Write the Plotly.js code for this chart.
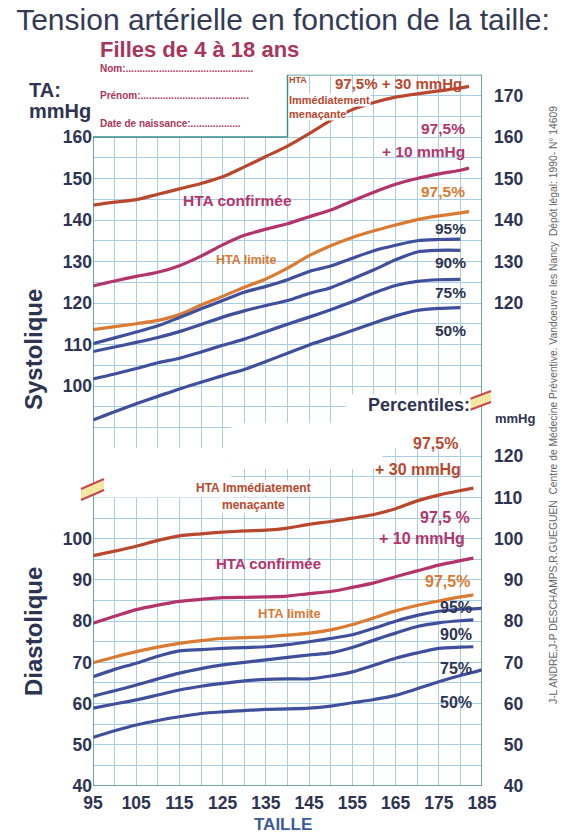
<!DOCTYPE html>
<html><head><meta charset="utf-8">
<script src="https://cdn.plot.ly/plotly-3.0.1.min.js"></script>
<style>html,body{margin:0;padding:0;background:#fff}#chart{width:566px;height:835px}</style>
</head><body><div id="chart"></div>
<script>
// ---------- DATA ----------
const tailleSys = [95,100,105,110,115,120,125,130,135,140,145,150,155,160,165,170,175,180,182];
const sysHTAimm  = [143.6,144.3,144.9,146.2,147.5,148.8,150.4,152.8,155.3,157.8,160.8,164.0,166.6,168.3,169.6,170.4,171.1,171.8,172.2];
const sysHTAconf = [124.1,125.3,126.4,127.4,129.0,131.3,134.0,136.3,137.8,139.1,140.8,142.4,144.6,146.7,148.6,150.0,151.1,152.0,152.5];
const sysP975    = [113.6,114.3,115.0,115.8,117.2,119.5,121.6,123.8,125.8,128.4,131.4,133.8,135.8,137.4,138.8,140.1,141.0,141.7,142.0];
const sysP95     = [110.2,111.6,113.0,114.5,116.5,118.6,120.6,122.6,124.0,125.6,127.6,128.9,130.8,132.6,133.9,135.0,135.3,135.4,null];
const sysP90     = [108.3,109.4,110.5,111.7,113.1,114.8,116.6,118.1,119.4,120.6,122.3,123.7,125.8,128.0,130.4,132.3,132.7,132.7,null];
const sysP75     = [101.7,102.9,104.2,105.6,106.7,108.2,109.8,111.3,113.1,114.9,116.6,118.4,120.3,122.4,124.2,125.2,125.6,125.7,null];
const sysP50     = [91.8,93.8,95.7,97.5,99.3,100.9,102.5,104.0,105.9,107.9,109.9,111.6,113.4,115.2,116.9,118.2,118.7,118.9,null];

const tailleDia = [95,100,105,110,115,120,125,130,135,140,145,150,155,160,165,170,175,180,183,185];
const diaHTAimm  = [95.9,97.0,98.2,99.6,100.7,101.2,101.6,101.9,102.1,102.6,103.5,104.2,105.0,105.9,107.3,109.2,110.6,111.7,112.3,null];
const diaHTAconf = [79.5,81.2,82.8,83.9,84.8,85.3,85.7,85.8,85.9,86.1,86.7,87.2,88.2,89.3,90.8,92.2,93.6,94.7,95.3,null];
const diaP975    = [69.9,71.3,72.6,73.7,74.6,75.3,75.8,76.0,76.2,76.6,77.1,77.9,79.2,80.8,82.5,83.8,84.9,85.9,86.4,null];
const diaP95     = [66.5,68.3,69.8,71.5,72.8,73.1,73.4,73.6,73.8,74.3,75.0,75.8,76.7,78.3,80.0,81.4,82.4,82.9,83.0,83.1];
const diaP90     = [61.8,63.1,64.5,66.0,67.4,68.5,69.4,70.0,70.6,71.2,71.8,72.3,73.6,75.4,77.1,78.7,79.6,80.1,80.3,null];
const diaP75     = [58.9,59.9,60.9,62.1,63.3,64.2,64.9,65.5,65.9,66.0,66.0,66.7,67.7,69.3,71.0,72.3,73.4,73.7,73.8,null];
const diaP50     = [51.8,53.4,54.8,55.9,56.8,57.6,58.0,58.3,58.6,58.7,58.9,59.4,60.2,61.0,62.0,63.6,65.3,66.8,67.6,68.2];

const xTickLabels      = [95,105,115,125,135,145,155,165,175,185];
const sysTicksLeft     = [100,110,120,130,140,150,160];
const sysTicksRight    = [120,130,140,150,160,170];
const diaTicksLeft     = [40,50,60,70,80,90,100];
const diaTicksRight    = [40,50,60,70,80,90,100,110,120];

// ---------- STYLE / GEOMETRY ----------
const FONT = 'Liberation Sans, Arial, sans-serif';
const NAVY = '#2d3452', RED = '#b8472d', MAG = '#b3346b', ORA = '#da7a33', BLUE = '#3f4f9c';
const GRID = '#a9cde2', FRAME = '#3f8b8d';
const L = 93, R = 482, B = 786;               // plot area in px (t=0)
const px = x => (x - L) / (R - L);
const py = y => (B - y) / B;
const SYS_RANGE = [85, 175], DIA_RANGE = [40, 123];
const sysDom = [py(448.25), py(74.75)];
const diaDom = [0, py(444)];
const sysPaper = v => sysDom[0] + (v - SYS_RANGE[0]) / (SYS_RANGE[1] - SYS_RANGE[0]) * (sysDom[1] - sysDom[0]);

function steps(a, b, s) { const o = []; for (let v = a; v <= b + 1e-9; v += s) o.push(v); return o; }
const xGrid = steps(95, 185, 5), sysGrid = steps(85, 175, 5), diaGrid = steps(40, 120, 5);
const FS = '\u2007'; // figure space: right-aligns two-digit labels on the right axes
const rightText = v => (v < 100 ? FS : '') + String(v);

function line(x, y, color, yaxis) {
  return { type: 'scatter', mode: 'lines', x, y, yaxis, xaxis: 'x', hoverinfo: 'skip', showlegend: false,
    line: { color, width: 3.2, shape: 'spline', smoothing: 0.8 }, connectgaps: false };
}
const traces = [
  line(tailleSys, sysHTAimm, RED, 'y2'),
  line(tailleSys, sysHTAconf, MAG, 'y2'),
  line(tailleSys, sysP975, ORA, 'y2'),
  line(tailleSys, sysP95, BLUE, 'y2'),
  line(tailleSys, sysP90, BLUE, 'y2'),
  line(tailleSys, sysP75, BLUE, 'y2'),
  line(tailleSys, sysP50, BLUE, 'y2'),
  line(tailleDia, diaHTAimm, RED, 'y'),
  line(tailleDia, diaHTAconf, MAG, 'y'),
  line(tailleDia, diaP975, ORA, 'y'),
  line(tailleDia, diaP95, BLUE, 'y'),
  line(tailleDia, diaP90, BLUE, 'y'),
  line(tailleDia, diaP75, BLUE, 'y'),
  line(tailleDia, diaP50, BLUE, 'y'),
  { type: 'scatter', x: [], y: [], yaxis: 'y3', showlegend: false, hoverinfo: 'skip' },
  { type: 'scatter', x: [], y: [], yaxis: 'y4', showlegend: false, hoverinfo: 'skip' }
];

const tickFont = { family: FONT, size: 17.5, color: NAVY, weight: 'bold' };
const baseAxis = { zeroline: false, showline: false, ticks: '', fixedrange: true, tickfont: tickFont,
  gridcolor: GRID, gridwidth: 1 };

function ann(text, x, y, o = {}) {
  return Object.assign({ xref: 'paper', yref: 'paper', x: px(x), y: py(y), text, showarrow: false,
    xanchor: 'left', yanchor: 'middle', borderpad: 0,
    font: { family: FONT, size: o.size || 15, color: o.color || NAVY } }, o.extra || {});
}
const b = t => '<b>' + t + '</b>';
const annotations = [
  ann(b('Filles de 4 à 18 ans'), 99, 50, { size: 22, color: '#a8365c' }),
  ann(b('Nom:..............................................'), 99, 68, { size: 10, color: '#a8365c' }),
  ann(b('Prénom:.......................................'), 99, 95, { size: 10, color: '#a8365c' }),
  ann(b('Date de naissance:..................'), 99, 124, { size: 10, color: '#a8365c' }),
  ann(b('TA:'), 28, 90, { size: 20 }),
  ann(b('mmHg'), 28, 111, { size: 20 }),
  ann(b('Systolique'), 33, 350, { size: 24, extra: { xanchor: 'center', textangle: -90 } }),
  ann(b('Diastolique'), 33, 632, { size: 24, extra: { xanchor: 'center', textangle: -90 } }),
  ann(b('TAILLE'), 283, 824, { size: 17, color: '#3c5a9a', extra: { xanchor: 'center' } }),
  ann('J-L ANDRE,J-P DESCHAMPS,R.GUEGUEN&nbsp;&nbsp;Centre de Médecine Préventive. Vandoeuvre les Nancy&nbsp;&nbsp;Dépôt légal: 1990- N° 14609',
      553, 405, { size: 10.3, color: '#666', extra: { xanchor: 'center', textangle: -90 } }),
  ann(b('mmHg'), 515, 418, { size: 13, extra: { xanchor: 'center' } }),
  ann(b('Percentiles:'), 471, 405, { size: 18, extra: { xanchor: 'right', bgcolor: '#fff' } }),
  // systolic labels
  ann(b('HTA'), 288, 80, { size: 9, color: RED }),
  ann(b('97,5% + 30 mmHg'), 334, 84, { size: 15, color: RED }),
  ann(b('Immédiatement'), 288, 100, { size: 11, color: RED, extra: { bgcolor: '#fff' } }),
  ann(b('menaçante'), 288, 114, { size: 11, color: RED, extra: { bgcolor: '#fff' } }),
  ann(b('97,5%'), 466, 128, { size: 15.5, color: MAG, extra: { xanchor: 'right' } }),
  ann(b('+ 10 mmHg'), 466, 152, { size: 15.5, color: MAG, extra: { xanchor: 'right' } }),
  ann(b('HTA confirmée'), 237, 200, { size: 15.5, color: MAG, extra: { xanchor: 'center' } }),
  ann(b('97,5%'), 466, 192, { size: 15.5, color: ORA, extra: { xanchor: 'right' } }),
  ann(b('HTA limite'), 246, 260, { size: 12.5, color: ORA, extra: { xanchor: 'center' } }),
  ann(b('95%'), 467, 228, { size: 15.5, extra: { xanchor: 'right' } }),
  ann(b('90%'), 467, 262, { size: 15.5, extra: { xanchor: 'right' } }),
  ann(b('75%'), 467, 292, { size: 15.5, extra: { xanchor: 'right' } }),
  ann(b('50%'), 467, 330, { size: 15.5, extra: { xanchor: 'right' } }),
  // diastolic labels
  ann(b('97,5%'), 459, 443, { size: 16, color: RED, extra: { xanchor: 'right' } }),
  ann(b('+ 30 mmHg'), 462, 469, { size: 16, color: RED, extra: { xanchor: 'right' } }),
  ann(b('HTA Immédiatement'), 253, 488, { size: 12, color: RED, extra: { xanchor: 'center', bgcolor: '#fff' } }),
  ann(b('menaçante'), 253, 505, { size: 12, color: RED, extra: { xanchor: 'center', bgcolor: '#fff' } }),
  ann(b('97,5 %'), 471, 517, { size: 16, color: MAG, extra: { xanchor: 'right' } }),
  ann(b('+ 10 mmHg'), 466, 538, { size: 16, color: MAG, extra: { xanchor: 'right' } }),
  ann(b('HTA confirmée'), 268, 563, { size: 15, color: MAG, extra: { xanchor: 'center' } }),
  ann(b('97,5%'), 471, 581, { size: 16, color: ORA, extra: { xanchor: 'right' } }),
  ann(b('HTA limite'), 289, 613, { size: 13, color: ORA, extra: { xanchor: 'center' } }),
  ann(b('95%'), 473, 607, { size: 16, extra: { xanchor: 'right' } }),
  ann(b('90%'), 473, 634, { size: 16, extra: { xanchor: 'right' } }),
  ann(b('75%'), 473, 668, { size: 16, extra: { xanchor: 'right' } }),
  ann(b('50%'), 473, 702, { size: 16, extra: { xanchor: 'right' } })
];

const mask = (yref, x0, x1, y0, y1) => ({ type: 'rect', xref: 'x', yref, x0, x1, y0, y1,
  fillcolor: '#fff', line: { width: 0 }, layer: 'between' });
const seg = (xref, yref, x0, y0, x1, y1, color, width) => ({ type: 'line', xref, yref, x0, y0, x1, y1,
  line: { color, width }, layer: 'above' });
const P = (x, y) => px(x).toFixed(4) + ',' + py(y).toFixed(4);
function brk(x0, y0, x1, y1, gap) {
  return [
    { type: 'path', xref: 'paper', yref: 'paper', path: `M${P(x0,y0)} L${P(x1,y1)} L${P(x1,y1+gap)} L${P(x0,y0+gap)} Z`,
      fillcolor: '#f4e7a4', line: { width: 0 }, layer: 'above' },
    seg('paper', 'paper', px(x0), py(y0), px(x1), py(y1), '#c9474a', 2),
    seg('paper', 'paper', px(x0), py(y0 + gap), px(x1), py(y1 + gap), '#c9474a', 2)
  ];
}
const shapes = [
  mask('y2', 95, 140, 160, 175),
  mask('y2', 127, 153.5, 85, 91),
  mask('y2', 153.5, 185, 85, 98),
  mask('y', 95, 127, 110, 123),
  mask('y', 127, 162, 117, 123),
  // frame
  seg('x', 'paper', 95, 0, 95, sysPaper(160), FRAME, 1.5),
  seg('x', 'y2', 95, 160, 140, 160, FRAME, 1.5),
  seg('x', 'y2', 140, 160, 140, 175, FRAME, 1.5),
  seg('x', 'y2', 140, 175, 185, 175, FRAME, 1.5),
  seg('x', 'paper', 185, 0, 185, sysPaper(175), FRAME, 1.5),
  seg('x', 'y', 95, 40, 185, 40, FRAME, 1.5),
  ...brk(81, 489, 104, 479, 11),
  ...brk(467, 400, 491, 391, 11)
];

const layout = {
  width: 566, height: 835, margin: { l: L, r: 566 - R, t: 0, b: 835 - B },
  paper_bgcolor: '#fff', plot_bgcolor: '#fff', showlegend: false,
  title: { text: 'Tension artérielle en fonction de la taille:', font: { family: FONT, size: 30, color: '#333b55' },
    x: 0.5, xref: 'container', xanchor: 'center', y: 1 - 19 / 835, yref: 'container', yanchor: 'middle' },
  xaxis: Object.assign({}, baseAxis, { range: [95, 185], anchor: 'y', tickmode: 'array', tickvals: xGrid,
    ticktext: xGrid.map(v => xTickLabels.includes(v) ? String(v) : ''), showgrid: true, ticklabelstandoff: 4 }),
  yaxis: Object.assign({}, baseAxis, { domain: diaDom, range: DIA_RANGE, anchor: 'x', tickmode: 'array', tickvals: diaGrid,
    ticktext: diaGrid.map(v => diaTicksLeft.includes(v) ? String(v) : ''), showgrid: true }),
  yaxis2: Object.assign({}, baseAxis, { domain: sysDom, range: SYS_RANGE, anchor: 'x', tickmode: 'array', tickvals: sysGrid,
    ticktext: sysGrid.map(v => sysTicksLeft.includes(v) ? String(v) : ''), showgrid: true }),
  yaxis3: Object.assign({}, baseAxis, { overlaying: 'y', side: 'right', anchor: 'x', range: DIA_RANGE, tickmode: 'array',
    tickvals: diaTicksRight, ticktext: diaTicksRight.map(rightText), showgrid: false, ticklabelstandoff: 11 }),
  yaxis4: Object.assign({}, baseAxis, { overlaying: 'y2', side: 'right', anchor: 'x', range: SYS_RANGE, tickmode: 'array',
    tickvals: sysTicksRight, ticktext: sysTicksRight.map(rightText), showgrid: false, ticklabelstandoff: 11 }),
  shapes, annotations
};
Plotly.newPlot('chart', traces, layout, { staticPlot: true, displayModeBar: false });
</script></body></html>
